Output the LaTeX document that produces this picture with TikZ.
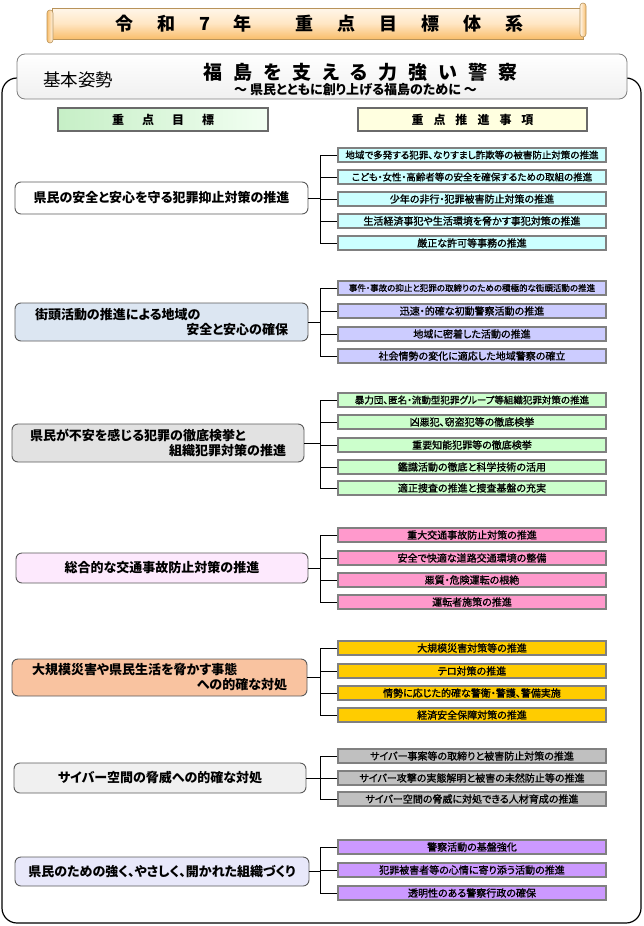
\documentclass[tikz,border=0pt]{standalone}
\usepackage{fontspec}
\setmainfont{Noto Sans CJK JP}[RawFeature=+palt]
\newfontfamily\itemfont{Noto Sans CJK JP}[RawFeature=+palt, FakeBold=1.2]
\definecolor{scrolltop}{HTML}{FFF6EA}
\definecolor{scrollmid}{HTML}{FFE6C4}
\definecolor{scrollbot}{HTML}{F9BE6B}
\definecolor{scrollborder}{HTML}{B8935A}
\definecolor{boxgray}{HTML}{808080}
\definecolor{goalborder}{HTML}{5A5A5A}
\definecolor{hdrborder}{HTML}{6A6A6A}
\definecolor{hdrgreenL}{HTML}{C6EFC6}
\definecolor{hdrgreenR}{HTML}{F2FFF2}
\definecolor{hdryellow}{HTML}{FFFFE0}
\definecolor{gA}{HTML}{FFFFFF}
\definecolor{gB}{HTML}{DCE6F2}
\definecolor{gC}{HTML}{E2E2E2}
\definecolor{gD}{HTML}{FDE9FD}
\definecolor{gE}{HTML}{F9C3A0}
\definecolor{gF}{HTML}{F0F0F0}
\definecolor{gG}{HTML}{E8E8FA}
\definecolor{iA}{HTML}{CCFFFF}
\definecolor{iB}{HTML}{CCCCFF}
\definecolor{iC}{HTML}{CCFFCC}
\definecolor{iD}{HTML}{FF99CC}
\definecolor{iE}{HTML}{FFCC00}
\definecolor{iF}{HTML}{C0C0C0}
\definecolor{iG}{HTML}{CC99FF}
\tikzset{
  goalbox/.style={draw=goalborder, line width=0.9pt, rounded corners=6pt, inner sep=0pt,
    font=\fontsize{13}{15}\selectfont\bfseries},
  itembox/.style={draw=boxgray, line width=1.6pt, minimum width=268pt, minimum height=13.5pt,
    inner sep=0pt, font=\itemfont\fontsize{10}{12}\selectfont},
  conn/.style={draw=black, line width=0.8pt},
  hdrbox/.style={draw=hdrborder, line width=2pt, minimum height=23pt, inner sep=0pt,
    font=\fontsize{12}{14}\selectfont\bfseries},
}
\newcommand{\tg}{\hspace{24pt}}
\begin{document}
\begin{tikzpicture}[x=1pt,y=-1pt]
\useasboundingbox (0,0) rectangle (644,926);
% outer frame
\draw[black, line width=1.2pt, rounded corners=15pt] (2,78) rectangle (641,923);
% title scroll
\draw[draw=scrollborder, line width=0.6pt, top color=scrolltop, bottom color=scrollbot, middle color=scrollmid] (52,8) rectangle (583,39);
\draw[draw=scrollborder, line width=0.6pt, left color=scrollbot, right color=scrolltop, rounded corners=3pt] (47,10) rectangle (53,43);
\draw[draw=scrollborder, line width=0.6pt, left color=scrolltop, right color=scrollbot, rounded corners=3pt] (580,3) rectangle (586,37);
\node[font=\fontsize{18}{20}\selectfont\bfseries] (title) at (319.5,24) {令\tg 和\tg 7\tg 年\hspace{44pt}重\tg 点\tg 目\tg 標\tg 体\tg 系};
% basic stance box
\draw[draw=boxgray, line width=0.8pt, rounded corners=8pt, top color=white, bottom color=gF] (17,54) rectangle (627,99);
\node[font=\fontsize{17.5}{19}\selectfont] (kihon) at (78,80) {基本姿勢};
\node[font=\fontsize{19}{21}\selectfont\bfseries] (motto) at (360.5,72) {福\hspace{11pt}島\hspace{11pt}を\hspace{11pt}支\hspace{11pt}え\hspace{11pt}る\hspace{11pt}力\hspace{11pt}強\hspace{11pt}い\hspace{11pt}警\hspace{11pt}察};
\node[font=\fontsize{13}{15}\selectfont\bfseries] (sub) at (355.5,90) {～ 県民とともに創り上げる福島のために ～};
% headers
\node[hdrbox, left color=hdrgreenL, right color=hdrgreenR, minimum width=210pt] (h1) at (163,119.5) {重\hspace{18pt}点\hspace{18pt}目\hspace{18pt}標};
\node[hdrbox, fill=hdryellow, minimum width=229pt] (h2) at (472.5,119.5) {重\hspace{10pt}点\hspace{10pt}推\hspace{10pt}進\hspace{10pt}事\hspace{10pt}項};

% ---------- group 1
\node[goalbox, fill=gA, minimum width=293pt, minimum height=32pt] (g1) at (161.5,198) {県民の安全と安心を守る犯罪抑止対策の推進};
\node[itembox, fill=iA, font=\itemfont\fontsize{9.5}{11}\selectfont] (i11) at (472,155) {地域で多発する犯罪、なりすまし詐欺等の被害防止対策の推進};
\node[itembox, fill=iA, font=\itemfont\fontsize{9.5}{11}\selectfont] (i12) at (472,177) {こども・女性・高齢者等の安全を確保するための取組の推進};
\node[itembox, fill=iA] (i13) at (472,199) {少年の非行・犯罪被害防止対策の推進};
\node[itembox, fill=iA] (i14) at (472,221) {生活経済事犯や生活環境を脅かす事犯対策の推進};
\node[itembox, fill=iA] (i15) at (472,243) {厳正な許可等事務の推進};
\coordinate (j1) at (320,198);
\draw[conn] (g1.east) -- (j1);
\draw[conn] (i11.west -| j1) -- (i15.west -| j1);
\foreach \k in {1,...,5} {\draw[conn] (i1\k.west -| j1) -- (i1\k.west);}

% ---------- group 2
\node[goalbox, fill=gB, minimum width=293pt, minimum height=38pt, text width=253pt, align=left] (g2) at (161.5,322) {街頭活動の推進による地域の\\\hspace*{\fill}安全と安心の確保};
\node[itembox, fill=iB, font=\itemfont\fontsize{8.5}{10}\selectfont] (i21) at (472,288) {事件・事故の抑止と犯罪の取締りのための積極的な街頭活動の推進};
\node[itembox, fill=iB] (i22) at (472,311) {迅速・的確な初動警察活動の推進};
\node[itembox, fill=iB] (i23) at (472,334) {地域に密着した活動の推進};
\node[itembox, fill=iB] (i24) at (472,356) {社会情勢の変化に適応した地域警察の確立};
\coordinate (j2) at (320,322);
\draw[conn] (g2.east) -- (j2);
\draw[conn] (i21.west -| j2) -- (i24.west -| j2);
\foreach \k in {1,...,4} {\draw[conn] (i2\k.west -| j2) -- (i2\k.west);}

% ---------- group 3
\node[goalbox, fill=gC, minimum width=292pt, minimum height=38pt, text width=256pt, align=left] (g3) at (158,443) {県民が不安を感じる犯罪の徹底検挙と\\\hspace*{\fill}組織犯罪対策の推進};
\node[itembox, fill=iC, font=\itemfont\fontsize{9.5}{11}\selectfont] (i31) at (472,400) {暴力団、匿名・流動型犯罪グループ等組織犯罪対策の推進};
\node[itembox, fill=iC] (i32) at (472,422) {凶悪犯、窃盗犯等の徹底検挙};
\node[itembox, fill=iC] (i33) at (472,445) {重要知能犯罪等の徹底検挙};
\node[itembox, fill=iC] (i34) at (472,467) {鑑識活動の徹底と科学技術の活用};
\node[itembox, fill=iC] (i35) at (472,488) {適正捜査の推進と捜査基盤の充実};
\coordinate (j3) at (320,443);
\draw[conn] (g3.east) -- (j3);
\draw[conn] (i31.west -| j3) -- (i35.west -| j3);
\foreach \k in {1,...,5} {\draw[conn] (i3\k.west -| j3) -- (i3\k.west);}

% ---------- group 4
\node[goalbox, fill=gD, minimum width=292pt, minimum height=30pt] (g4) at (162,568) {総合的な交通事故防止対策の推進};
\node[itembox, fill=iD] (i41) at (472,535) {重大交通事故防止対策の推進};
\node[itembox, fill=iD] (i42) at (472,558) {安全で快適な道路交通環境の整備};
\node[itembox, fill=iD] (i43) at (472,580) {悪質・危険運転の根絶};
\node[itembox, fill=iD] (i44) at (472,602) {運転者施策の推進};
\coordinate (j4) at (320,568);
\draw[conn] (g4.east) -- (j4);
\draw[conn] (i41.west -| j4) -- (i44.west -| j4);
\foreach \k in {1,...,4} {\draw[conn] (i4\k.west -| j4) -- (i4\k.west);}

% ---------- group 5
\node[goalbox, fill=gE, minimum width=295pt, minimum height=37pt, text width=255pt, align=left] (g5) at (159.5,677.5) {大規模災害や県民生活を脅かす事態\\\hspace*{\fill}への的確な対処};
\node[itembox, fill=iE] (i51) at (472,648) {大規模災害対策等の推進};
\node[itembox, fill=iE] (i52) at (472,671) {テロ対策の推進};
\node[itembox, fill=iE] (i53) at (472,693) {情勢に応じた的確な警衛・警護、警備実施};
\node[itembox, fill=iE] (i54) at (472,715) {経済安全保障対策の推進};
\coordinate (j5) at (320,677.5);
\draw[conn] (g5.east) -- (j5);
\draw[conn] (i51.west -| j5) -- (i54.west -| j5);
\foreach \k in {1,...,4} {\draw[conn] (i5\k.west -| j5) -- (i5\k.west);}

% ---------- group 6
\node[goalbox, fill=gF, minimum width=292pt, minimum height=30pt] (g6) at (160,778) {サイバー空間の脅威への的確な対処};
\node[itembox, fill=iF] (i61) at (472,756) {サイバー事案等の取締りと被害防止対策の推進};
\node[itembox, fill=iF] (i62) at (472,778) {サイバー攻撃の実態解明と被害の未然防止等の推進};
\node[itembox, fill=iF] (i63) at (472,799) {サイバー空間の脅威に対処できる人材育成の推進};
\coordinate (j6) at (320,778);
\draw[conn] (g6.east) -- (j6);
\draw[conn] (i61.west -| j6) -- (i63.west -| j6);
\foreach \k in {1,...,3} {\draw[conn] (i6\k.west -| j6) -- (i6\k.west);}

% ---------- group 7
\node[goalbox, fill=gG, minimum width=294pt, minimum height=29pt] (g7) at (162,871.5) {県民のための強く、やさしく、開かれた組織づくり};
\node[itembox, fill=iG] (i71) at (472,847) {警察活動の基盤強化};
\node[itembox, fill=iG] (i72) at (472,870) {犯罪被害者等の心情に寄り添う活動の推進};
\node[itembox, fill=iG] (i73) at (472,893) {透明性のある警察行政の確保};
\coordinate (j7) at (320,871.5);
\draw[conn] (g7.east) -- (j7);
\draw[conn] (i71.west -| j7) -- (i73.west -| j7);
\foreach \k in {1,...,3} {\draw[conn] (i7\k.west -| j7) -- (i7\k.west);}
\end{tikzpicture}
\end{document}
